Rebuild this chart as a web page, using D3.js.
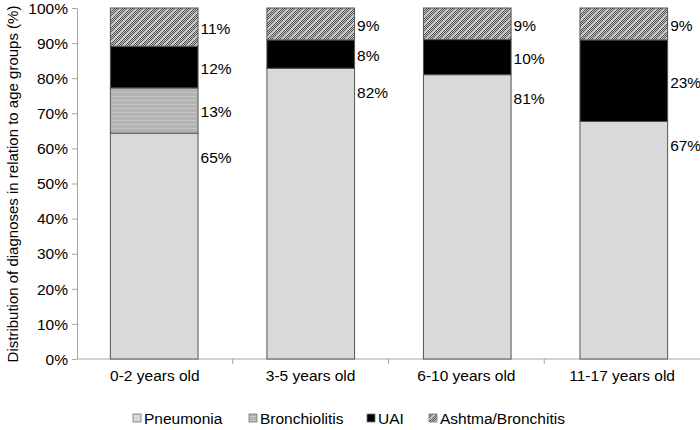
<!DOCTYPE html>
<html><head><meta charset="utf-8">
<script src="https://cdn.jsdelivr.net/npm/d3@7"></script>
<style>body{margin:0;background:#fff}svg text{font-family:"Liberation Sans",Arial,sans-serif}</style>
</head><body><svg id="c" width="700" height="430"></svg>
<script>
const categories = ["0-2 years old", "3-5 years old", "6-10 years old", "11-17 years old"];
const seriesNames = ["Pneumonia", "Bronchiolitis", "UAI", "Ashtma/Bronchitis"];
const pneumonia = [65, 82, 81, 67];
const bronchiolitis = [13, 0, 0, 0];
const uai = [12, 8, 10, 23];
const asthma = [11, 9, 9, 9];
const yTicks = [0, 10, 20, 30, 40, 50, 60, 70, 80, 90, 100];

const svg = d3.select("#c");
const m = {l: 77, r: 0, t: 8, b: 71};
const W = 700, H = 430;
const defs = svg.append("defs");
// Bronchiolitis: gray with faint horizontal lines
const pb = defs.append("pattern").attr("id", "pBron").attr("patternUnits", "userSpaceOnUse").attr("width", 4).attr("height", 4);
pb.append("rect").attr("width", 4).attr("height", 4).attr("fill", "#b3b3b3");
pb.append("rect").attr("y", 0).attr("width", 4).attr("height", 1).attr("fill", "#c4c4c4");
// Asthma: fine checker with diagonal lighter stripes
const pa = defs.append("pattern").attr("id", "pAst").attr("patternUnits", "userSpaceOnUse").attr("width", 8).attr("height", 8);
pa.append("rect").attr("width", 8).attr("height", 8).attr("fill", "#c8c8c8");
for (let i = 0; i < 8; i++) for (let j = 0; j < 8; j++) {
  const d = ((i + j) % 8);
  if ((i + j) % 2 === 0 && d !== 0) pa.append("rect").attr("x", i).attr("y", j).attr("width", 1).attr("height", 1).attr("fill", "#505050");
}
const fills = ["#d9d9d9", "url(#pBron)", "#000000", "url(#pAst)"];

const data = categories.map((c, i) => ({cat: c, Pneumonia: pneumonia[i], Bronchiolitis: bronchiolitis[i], UAI: uai[i], "Ashtma/Bronchitis": asthma[i]}));
const stack = d3.stack().keys(seriesNames).offset(d3.stackOffsetExpand)(data);

const x = d3.scaleBand().domain(categories).range([m.l, W - m.r]).paddingInner(0.44).paddingOuter(0.21);
const xb = d3.scaleBand().domain(categories).range([m.l, W - m.r]);
const y = d3.scaleLinear().domain([0, 100]).range([359, m.t]);

// axes
const ya = svg.append("g").attr("transform", `translate(${m.l},0)`)
  .call(d3.axisLeft(y).tickValues(yTicks).tickFormat(d => d + "%").tickSize(5).tickSizeOuter(0));
ya.select(".domain").attr("stroke", "#a6a6a6");
ya.selectAll(".tick line").attr("stroke", "#a6a6a6");
ya.selectAll(".tick text").attr("font-size", 15.5).attr("fill", "#000").attr("x", -9).attr("dy", "0.34em");

const xa = svg.append("g").attr("transform", `translate(0,358.5)`)
  .call(d3.axisBottom(xb).tickSize(0).tickSizeOuter(0));
xa.select(".domain").attr("stroke", "#a6a6a6");
xa.selectAll(".tick text").attr("font-size", 15.5).attr("fill", "#000").attr("dy", "1.1em").attr("y", 5);
// boundary ticks
const bounds = categories.slice(1).map(c => xb(c));
svg.append("g").selectAll("line").data(bounds).join("line")
  .attr("x1", d => d).attr("x2", d => d).attr("y1", 358.5).attr("y2", 364).attr("stroke", "#a6a6a6");

// bars
stack.forEach((s, si) => {
  svg.append("g").selectAll("rect").data(s.filter(d => d[1] - d[0] > 0)).join("rect")
    .attr("x", d => x(d.data.cat) + 0.5)
    .attr("width", x.bandwidth())
    .attr("y", d => y(d[1] * 100))
    .attr("height", d => y(d[0] * 100) - y(d[1] * 100))
    .attr("fill", fills[si])
    .attr("stroke", "#555").attr("stroke-width", 1);
});

// labels
const raw = [pneumonia, bronchiolitis, uai, asthma];
stack.forEach((s, si) => {
  s.forEach((d, i) => {
    const v = raw[si][i];
    if (!v) return;
    let yy;
    if (si === 0) yy = y(d[1] * 100) + 24;
    else yy = (y(d[0] * 100) + y(d[1] * 100)) / 2 + 1.5;
    svg.append("text").attr("x", x(d.data.cat) + x.bandwidth() + 3).attr("y", yy)
      .attr("dy", "0.35em").attr("font-size", 15.5).attr("fill", "#000").text(v + "%");
  });
});

// y title
svg.append("text").attr("transform", `translate(13,184) rotate(-90)`).attr("text-anchor", "middle")
  .attr("dy", "0.35em").attr("font-size", 15).attr("fill", "#000").text("Distribution of diagnoses in relation to age groups (%)");

// legend
const legX = [133, 249, 367, 429];
const lg = svg.append("g");
seriesNames.forEach((n, i) => {
  lg.append("rect").attr("x", legX[i]).attr("y", 414).attr("width", 8).attr("height", 8)
    .attr("fill", fills[i]).attr("stroke", "#777").attr("stroke-width", 0.8);
  lg.append("text").attr("x", legX[i] + 11).attr("y", 418.5).attr("dy", "0.35em")
    .attr("font-size", 15.5).attr("fill", "#000").text(n);
});
</script></body></html>
